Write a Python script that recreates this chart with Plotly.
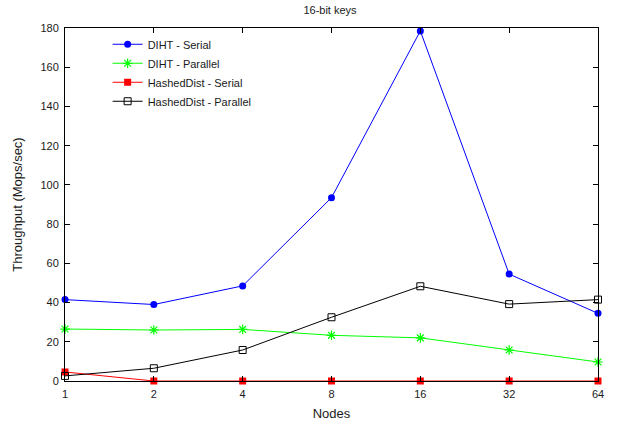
import math
import plotly.graph_objects as go

nodes = [1, 2, 4, 8, 16, 32, 64]
diht_serial = [41.5, 39.0, 48.5, 93.5, 178.5, 54.5, 34.5]
diht_parallel = [26.5, 26.0, 26.3, 23.3, 22.0, 15.8, 9.7]
hashed_serial = [4.6, 0, 0, 0, 0, 0, 0]
hashed_parallel = [2.6, 6.5, 15.8, 32.5, 48.3, 39.2, 41.5]
y_ticks = [0, 20, 40, 60, 80, 100, 120, 140, 160, 180]

FONT = "Liberation Sans, Arial, sans-serif"

series = [
    ("DIHT - Serial", diht_serial, "#0000ff", dict(symbol="circle", size=7)),
    ("DIHT - Parallel", diht_parallel, "#00ff00",
     dict(symbol="asterisk-open", size=8, line=dict(width=1.2, color="#00ff00"))),
    ("HashedDist - Serial", hashed_serial, "#ff0000", dict(symbol="square", size=7)),
    ("HashedDist - Parallel", hashed_parallel, "#000000",
     dict(symbol="square-open", size=7, line=dict(width=1, color="#000000"))),
]

fig = go.Figure()
for name, vals, color, marker in series:
    m = dict(color=color)
    m.update(marker)
    fig.add_trace(go.Scatter(
        x=nodes, y=vals, name=name, mode="lines+markers",
        line=dict(color=color, width=1), marker=m, cliponaxis=False,
    ))

fig.update_layout(
    width=618, height=421,
    margin=dict(l=65, r=20, t=28, b=40, autoexpand=False),
    paper_bgcolor="white", plot_bgcolor="white",
    font=dict(family=FONT, size=11, color="#1a1a1a"),
    title=dict(text="16-bit keys", x=330 / 618, xanchor="center",
               y=1 - 10 / 421, yanchor="middle", font=dict(size=11)),
    showlegend=True,
    legend=dict(x=0.08, y=0.995, xanchor="left", yanchor="top",
                bgcolor="rgba(0,0,0,0)", font=dict(size=11), itemwidth=30,
                tracegroupgap=0),
)
fig.update_xaxes(
    type="log", range=[0, math.log10(64)], tickvals=nodes,
    ticktext=[str(n) for n in nodes],
    showgrid=False, zeroline=False, showline=True, linecolor="black", linewidth=1,
    mirror="ticks", ticks="inside", ticklen=5, tickcolor="black",
    ticklabelstandoff=3, automargin=False,
    title=dict(text="Nodes", standoff=9), tickfont=dict(size=11),
)
fig.update_yaxes(
    range=[0, 180], tickvals=y_ticks,
    showgrid=False, zeroline=False, showline=True, linecolor="black", linewidth=1,
    mirror="ticks", ticks="inside", ticklen=5, tickcolor="black",
    ticklabelstandoff=3, automargin=False,
    title=dict(text="Throughput (Mops/sec)", standoff=14), tickfont=dict(size=11),
)

fig.write_html("out.html", config={"displayModeBar": False},
               post_script="document.body.style.margin='0px';")
